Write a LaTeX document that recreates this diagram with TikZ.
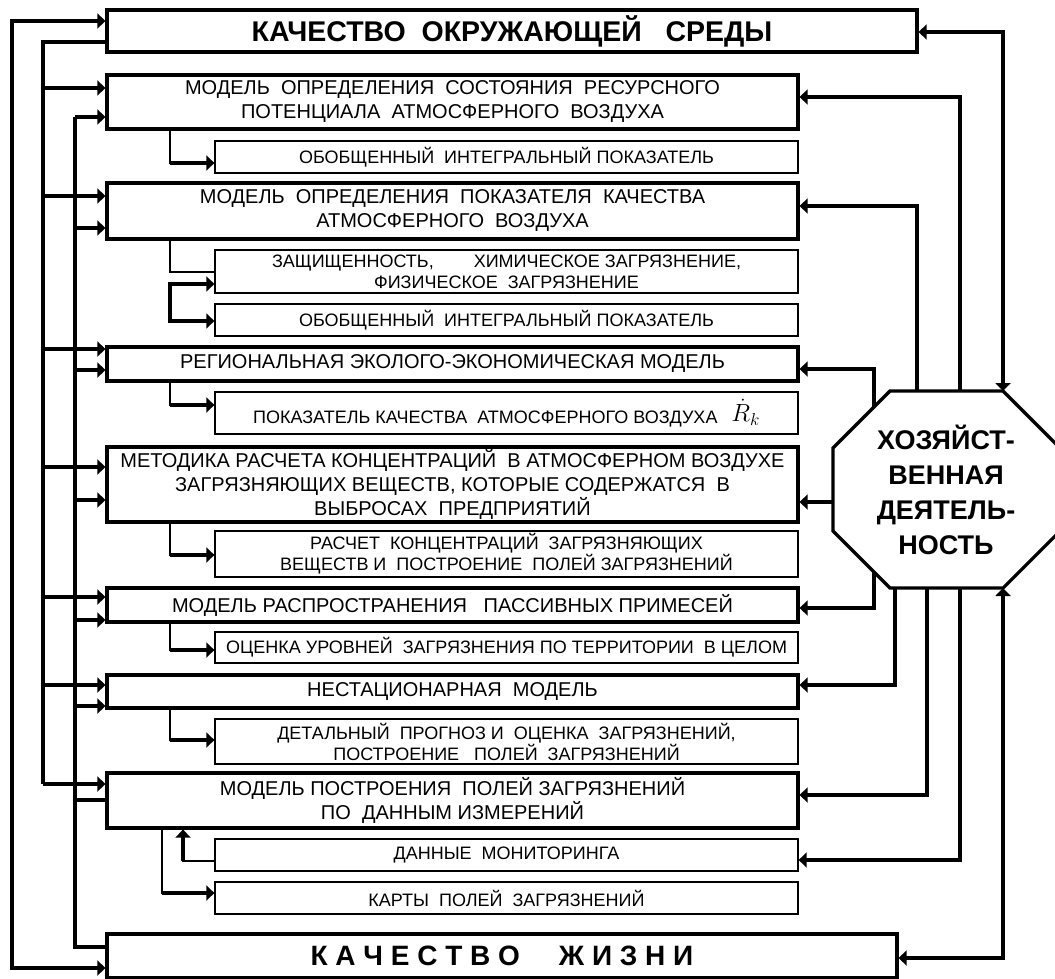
\documentclass[tikz,border=0pt]{standalone}
\usepackage{fontspec}
\setmainfont{Liberation Sans}
\usetikzlibrary{arrows.meta}
\usetikzlibrary{backgrounds}
\tikzset{
  >={Triangle[length=8pt,width=15pt]},
  mainbox/.style={draw, line width=3.2pt, minimum width=691pt, inner sep=0pt,
    align=center, font=\fontsize{20}{24}\selectfont},
  subbox/.style={draw, line width=1.3pt, minimum width=583pt, inner sep=0pt,
    align=center, font=\fontsize{18}{21}\selectfont},
  bigbox/.style={draw, line width=3.2pt, inner sep=0pt,
    font=\fontsize{28.5}{30}\selectfont\bfseries},
  link/.style={line width=3.2pt},
  thinlink/.style={line width=1.3pt},
  arr/.style={link, ->},
}

\begin{document}
\begin{tikzpicture}[x=1pt,y=-1pt]
\useasboundingbox (0,0) rectangle (1055,979);
% left column of boxes
\node[bigbox, minimum width=810pt, minimum height=42pt] (top) at (512,31)
  {КАЧЕСТВО\ \ ОКРУЖАЮЩЕЙ\ \ \ СРЕДЫ};
\node[mainbox, minimum height=54pt] (m1) at (452.5,102)
  {МОДЕЛЬ\ \ ОПРЕДЕЛЕНИЯ\ \ СОСТОЯНИЯ\ \ РЕСУРСНОГО\\ ПОТЕНЦИАЛА\ \ АТМОСФЕРНОГО\ \ ВОЗДУХА};
\node[subbox, minimum height=32pt] (s1) at (506.5,157)
  {ОБОБЩЕННЫЙ\ \ ИНТЕГРАЛЬНЫЙ ПОКАЗАТЕЛЬ};
\node[mainbox, minimum height=56pt] (m2) at (452.5,211)
  {МОДЕЛЬ\ \ ОПРЕДЕЛЕНИЯ\ \ ПОКАЗАТЕЛЯ\ \ КАЧЕСТВА\\ АТМОСФЕРНОГО\ \ ВОЗДУХА};
\node[subbox, minimum height=43pt] (s2) at (506.5,271.5)
  {ЗАЩИЩЕННОСТЬ,\hspace{40pt}ХИМИЧЕСКОЕ ЗАГРЯЗНЕНИЕ,\\ ФИЗИЧЕСКОЕ\ \ ЗАГРЯЗНЕНИЕ};
\node[subbox, minimum height=32pt] (s3) at (506.5,320)
  {ОБОБЩЕННЫЙ\ \ ИНТЕГРАЛЬНЫЙ ПОКАЗАТЕЛЬ};
\node[mainbox, minimum height=34pt] (m3) at (452.5,364)
  {РЕГИОНАЛЬНАЯ ЭКОЛОГО-ЭКОНОМИЧЕСКАЯ МОДЕЛЬ};
\node[subbox, minimum height=42pt] (s4) at (506.5,413)
  {ПОКАЗАТЕЛЬ КАЧЕСТВА\ \ АТМОСФЕРНОГО ВОЗДУХА\hspace{14pt}\raisebox{2pt}{\fontsize{23}{23}\selectfont$\dot{R}_k$}};
\node[mainbox, minimum height=75pt] (m4) at (452.5,484.5)
  {МЕТОДИКА РАСЧЕТА КОНЦЕНТРАЦИЙ\ \ В АТМОСФЕРНОМ ВОЗДУХЕ\\
   ЗАГРЯЗНЯЮЩИХ ВЕЩЕСТВ, КОТОРЫЕ СОДЕРЖАТСЯ\ \ В\\ ВЫБРОСАХ\ \ ПРЕДПРИЯТИЙ};
\node[subbox, minimum height=46pt] (s5) at (506.5,554)
  {РАСЧЕТ\ \ КОНЦЕНТРАЦИЙ\ \ ЗАГРЯЗНЯЮЩИХ\\ ВЕЩЕСТВ И\ \ ПОСТРОЕНИЕ\ \ ПОЛЕЙ ЗАГРЯЗНЕНИЙ};
\node[mainbox, minimum height=34pt] (m5) at (452.5,605)
  {МОДЕЛЬ РАСПРОСТРАНЕНИЯ\ \ \ ПАССИВНЫХ ПРИМЕСЕЙ};
\node[subbox, minimum height=31pt] (s6) at (506.5,647.5)
  {ОЦЕНКА УРОВНЕЙ\ \ ЗАГРЯЗНЕНИЯ ПО ТЕРРИТОРИИ\ \ В ЦЕЛОМ};
\node[mainbox, minimum height=33pt] (m6) at (452.5,691.5)
  {НЕСТАЦИОНАРНАЯ\ \ МОДЕЛЬ};
\node[subbox, minimum height=45pt] (s7) at (506.5,741.5)
  {ДЕТАЛЬНЫЙ\ \ ПРОГНОЗ И\ \ ОЦЕНКА\ \ ЗАГРЯЗНЕНИЙ,\\ ПОСТРОЕНИЕ\ \ \ ПОЛЕЙ\ \ ЗАГРЯЗНЕНИЙ};
\node[mainbox, minimum height=55pt] (m7) at (452.5,800.5)
  {МОДЕЛЬ ПОСТРОЕНИЯ\ \ ПОЛЕЙ ЗАГРЯЗНЕНИЙ\\ ПО\ \ ДАННЫМ ИЗМЕРЕНИЙ};
\node[subbox, minimum height=32pt] (s8) at (506.5,855)
  {ДАННЫЕ\ \ МОНИТОРИНГА};
\node[subbox, minimum height=32pt] (s9) at (506.5,898)
  {КАРТЫ\ \ ПОЛЕЙ\ \ ЗАГРЯЗНЕНИЙ};
\node[bigbox, minimum width=790pt, minimum height=44pt, font=\fontsize{28}{30}\selectfont\bfseries] (bottom) at (502,956)
  {К\ А\ Ч\ Е\ С\ Т\ В\ О\ \ \ \ \ Ж\ И\ З\ Н\ И};
% octagon on the right
\draw[fill=white, line width=3.2pt] (833,448) -- (890,391) -- (1003,391) -- (1060,448)
  -- (1060,531) -- (1003,588) -- (890,588) -- (833,531) -- cycle;
\node[align=center, font=\fontsize{27}{35}\selectfont\bfseries] (hoz) at (946,489.5)
  {ХОЗЯЙСТ-\\ВЕННАЯ\\ДЕЯТЕЛЬ-\\НОСТЬ};
\coordinate (ht) at (946,391);
\coordinate (hb) at (946,588);
\coordinate (hl) at (833,489.5);

% left buses
\draw[link, <->] (top.west |- 0,21) -- (12,21) -- (12,968) -- (bottom.west |- 0,968);
\draw[link] (top.west |- 0,42) -- (43,42) -- (43,784);
\foreach \n/\y in {m1/88, m2/196, m3/349, m4/467, m5/597, m6/685, m7/784}
  \draw[arr] (43,\y) -- (\n.west |- 0,\y);
\draw[link] (bottom.west |- 0,947) -- (75,947) -- (75,117);
\draw[link] (75,800) -- (m7.west |- 0,800);
\foreach \n/\y in {m1/117, m2/228, m3/370, m4/500, m5/620, m6/706}
  \draw[arr] (75,\y) -- (\n.west |- 0,\y);

% model -> result
\foreach \m/\s/\y in {m1/s1/163, m3/s4/405, m4/s5/555, m5/s6/650, m6/s7/740} {
  \draw[thinlink] (\m.south -| 170,0) |- (\s.west |- 0,\y);
  \draw[arr] (170,\y) -- (\s.west |- 0,\y);
}
\draw[thinlink] (m2.south -| 170,0) |- (s2.west |- 0,272);
\draw[link, <->] (s2.west |- 0,284) -| (170,321) -- (s3.west |- 0,321);
\draw[thinlink] (m7.south -| 162,0) |- (s9.west |- 0,893);
\draw[arr] (162,893) -- (s9.west |- 0,893);
\draw[thinlink] (s8.west |- 0,861) -| (m7.south -| 183,0);
\draw[arr] (183,861) -- (m7.south -| 183,0);

% right side
\begin{scope}[on background layer]
\draw[link, <->] (top.east |- 0,32) -| (ht -| 1003,0);
\draw[arr] (ht -| 960,0) |- (m1.east |- 0,97);
\draw[arr] (ht -| 917,0) |- (m2.east |- 0,206);
\draw[arr] (hoz.center -| 874,0) |- (m3.east |- 0,369);
\draw[arr] (hl |- 0,502) -- (m4.east |- 0,502);
\draw[arr] (hoz.center -| 874,0) |- (m5.east |- 0,608);
\draw[arr] (hb -| 895,0) |- (m6.east |- 0,685);
\draw[arr] (hb -| 927,0) |- (m7.east |- 0,795);
\draw[arr] (hb -| 960,0) |- (s8.east |- 0,860);
\draw[link, <->] (hb -| 1003,0) |- (bottom.east |- 0,958);
\end{scope}
\end{tikzpicture}
\end{document}
